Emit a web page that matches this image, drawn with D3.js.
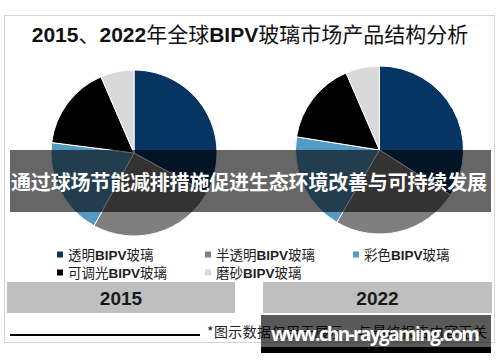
<!DOCTYPE html>
<html>
<head>
<meta charset="utf-8">
<script src="https://cdn.jsdelivr.net/npm/d3@7"></script>
<style>
  body { margin: 0; background: #fff; }
  svg { display: block; }
</style>
</head>
<body>
<div class="chart"></div>
<script>
var title = "2015、2022年全球BIPV玻璃市场产品结构分析";
var categories = ["透明BIPV玻璃", "半透明BIPV玻璃", "彩色BIPV玻璃", "可调光BIPV玻璃", "磨砂BIPV玻璃"];
var years = ["2015", "2022"];
// shares in %
var share2015 = [33, 25, 19, 16.5, 6.5];
var share2022 = [34, 24.5, 19, 16, 6.5];
var bannerText = "通过球场节能减排措施促进生态环境改善与可持续发展";
var footnote = "*图示数据仅用于展示，与最终报告内容无关";
var siteText = "www.chn-raygaming.com";

var colors = ["#063563", "#7f7f7f", "#559ac2", "#000000", "#d9d9d9"];

var svgWidth = 500;
var svgHeight = 362;

var svg = d3.select(".chart")
  .append("svg")
  .attr("width", svgWidth)
  .attr("height", svgHeight);

var cjk = "'Noto Sans CJK SC', 'Noto Sans', sans-serif";
var latin = "'Liberation Sans', Arial, sans-serif";

// outer frame
svg.append("rect")
  .attr("x", 4.5).attr("y", 15.5)
  .attr("width", 490).attr("height", 327)
  .attr("fill", "#fff")
  .attr("stroke", "#d4d4d4");

// title, latin parts bold
function splitLatin(str) {
  return str.split(/([0-9A-Z]+)/).filter(s => s.length);
}

var titleText = svg.append("text")
  .attr("x", 250).attr("y", 42)
  .attr("text-anchor", "middle")
  .attr("font-size", 21)
  .attr("fill", "#111");
titleText.selectAll("tspan")
  .data(splitLatin(title))
  .enter()
  .append("tspan")
  .attr("font-family", d => /[0-9A-Z]/.test(d) ? latin : cjk)
  .attr("font-weight", d => /[0-9A-Z]/.test(d) ? "bold" : "normal")
  .text(d => d);

// pies
var pie = d3.pie().sort(null).value(d => d);
var pies = [
  {data: share2015, cx: 134, cy: 153, r: 83},
  {data: share2022, cx: 379.5, cy: 150, r: 84}
];

pies.forEach(function(p) {
  var arc = d3.arc().innerRadius(0).outerRadius(p.r);
  var g = svg.append("g")
    .attr("transform", `translate(${p.cx}, ${p.cy})`);
  g.selectAll("path")
    .data(pie(p.data))
    .enter()
    .append("path")
    .attr("d", arc)
    .attr("fill", (d, i) => colors[i])
    .attr("stroke", "#fff")
    .attr("stroke-width", 1);
});

// legend
var legendX = d3.scalePoint().domain([0, 1, 2]).range([57, 353]);
var legendY = d3.scalePoint().domain([0, 1]).range([254.5, 272.5]);

var legend = svg.selectAll(".legend")
  .data(categories)
  .enter()
  .append("g")
  .attr("class", "legend")
  .attr("transform", (d, i) => `translate(${legendX(i % 3)}, ${legendY(Math.floor(i / 3))})`);

legend.append("rect")
  .attr("x", 0).attr("y", -3)
  .attr("width", 6).attr("height", 6)
  .attr("fill", (d, i) => colors[i]);

legend.append("text")
  .attr("x", 11)
  .attr("y", 5)
  .attr("font-size", 13.5)
  .attr("fill", "#222")
  .each(function(d) {
    d3.select(this).selectAll("tspan")
      .data(splitLatin(d))
      .enter()
      .append("tspan")
      .attr("font-family", s => /[0-9A-Z]/.test(s) ? latin : cjk)
      .attr("font-weight", s => /[0-9A-Z]/.test(s) ? "bold" : "normal")
      .text(s => s);
  });

// year boxes
var boxes = [{x: 7, w: 228}, {x: 263, w: 229}];
svg.selectAll(".yearbox")
  .data(years)
  .enter()
  .append("rect")
  .attr("class", "yearbox")
  .attr("x", (d, i) => boxes[i].x)
  .attr("y", 282)
  .attr("width", (d, i) => boxes[i].w)
  .attr("height", 31)
  .attr("fill", "#bfbfbf");

svg.selectAll(".yeartext")
  .data(years)
  .enter()
  .append("text")
  .attr("class", "yeartext")
  .attr("x", (d, i) => boxes[i].x + boxes[i].w / 2)
  .attr("y", 305)
  .attr("text-anchor", "middle")
  .attr("font-family", latin)
  .attr("font-weight", "bold")
  .attr("font-size", 19)
  .attr("fill", "#1a1a1a")
  .text(d => d);

// footnote
svg.append("line")
  .attr("x1", 10).attr("x2", 200)
  .attr("y1", 335).attr("y2", 335)
  .attr("stroke", "#000")
  .attr("stroke-width", 2);

svg.append("text")
  .attr("x", 207).attr("y", 337)
  .attr("font-family", cjk)
  .attr("font-size", 14)
  .attr("fill", "#222")
  .attr("textLength", 280)
  .text(footnote);

// dark banner over the pies
svg.append("rect")
  .attr("x", 10).attr("y", 150)
  .attr("width", 481).attr("height", 62)
  .attr("fill", "rgba(0,0,0,0.6)");

svg.append("text")
  .attr("x", 11).attr("y", 190)
  .attr("font-family", cjk)
  .attr("font-weight", "bold")
  .attr("font-size", 20)
  .attr("fill", "#fff")
  .attr("textLength", 476)
  .text(bannerText);

// site mark
svg.append("rect")
  .attr("x", 261).attr("y", 315)
  .attr("width", 230).attr("height", 32)
  .attr("fill", "rgba(0,0,0,0.65)");
svg.append("rect")
  .attr("x", 261).attr("y", 347)
  .attr("width", 230).attr("height", 6)
  .attr("fill", "#000");

svg.append("text")
  .attr("x", 271).attr("y", 341)
  .attr("font-family", "'Open Sans', " + latin)
  .attr("font-weight", "bold")
  .attr("font-size", 19)
  .attr("fill", "#fff")
  .attr("textLength", 209)
  .text(siteText);
</script>
</body>
</html>
